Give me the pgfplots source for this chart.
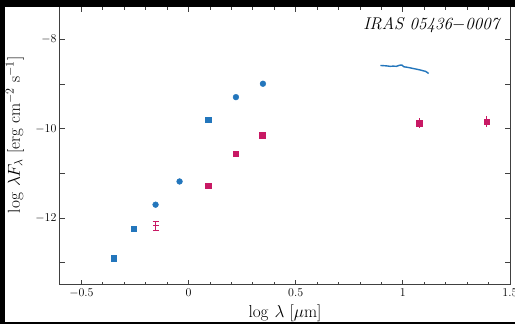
\documentclass[border=0pt]{standalone}
\usepackage{pgfplots}
\pgfplotsset{compat=1.18}
\definecolor{cblue}{RGB}{35,118,188}
\definecolor{cmag}{RGB}{200,25,100}
\begin{document}
\begin{tikzpicture}[x=1pt,y=1pt]
\path[use as bounding box] (0,0) rectangle (515,324);
\fill[white] (0,0) rectangle (515,324);
\begin{axis}[
  at={(60pt,39pt)}, anchor=south west, scale only axis,
  width=450pt, height=278pt,
  xmin=-0.6, xmax=1.5, ymin=-13.5, ymax=-7.27,
  xtick={-0.5,0,0.5,1,1.5},
  xticklabels={$-0.5$,$0$,$0.5$,$1$,$1.5$},
  minor x tick num=4,
  ytick={-13,-12,-11,-10,-9,-8},
  yticklabels={{},{$-12$},{},{$-10$},{},{$-8$}},
  tick align=inside,
  major tick length=5pt, minor tick length=3pt,
  ticklabel style={font=\fontsize{12}{14}\selectfont},
  axis line style={line width=1pt, black!75},
  every tick/.style={black!75, line width=0.8pt},
  xlabel={$\log\,\lambda$ [$\mu$m]},
  ylabel={$\log\,\lambda F_\lambda$ [erg cm$^{-2}$ s$^{-1}$]},
  every axis x label/.style={at={(axis description cs:0.5,0)}, anchor=north, yshift=-16pt, font=\fontsize{17}{20}\selectfont},
  every axis y label/.style={at={(axis description cs:-0.1,0.54)}, rotate=90, anchor=center, font=\fontsize{17}{20}\selectfont},
]
% blue squares
\addplot[only marks, mark=square*, mark size=2.7pt, color=cblue] coordinates {
  (-0.35,-12.90) (-0.257,-12.24) (0.092,-9.80)
};
% blue circles
\addplot[only marks, mark=*, mark size=2.9pt, color=cblue] coordinates {
  (-0.154,-11.70) (-0.042,-11.18) (0.221,-9.29) (0.347,-8.99)
};
% magenta squares
\addplot[only marks, mark=square*, mark size=2.7pt, color=cmag] coordinates {
  (0.092,-11.27) (0.221,-10.56) (0.344,-10.14)
};
% magenta with errors
\addplot[only marks, mark=square*, mark size=2.7pt, color=cmag,
  error bars/.cd, y dir=both, y explicit, error mark=none,
  error bar style={line width=0.8pt}] coordinates {
  (1.077,-9.87) +- (0,0.12)
  (1.39,-9.84) +- (0,0.12)
};
% magenta limit-like point
\addplot[only marks, mark=-, mark size=3pt, color=cmag,
  error bars/.cd, y dir=both, y explicit,
  error mark options={rotate=90, mark size=3pt}] coordinates {
  (-0.154,-12.17) +- (0,0.11)
};
% spectrum
\addplot[color=cblue, line width=1.4pt] coordinates {
  (0.895,-8.58) (0.91,-8.585) (0.925,-8.59) (0.94,-8.60) (0.955,-8.595)
  (0.97,-8.60) (0.985,-8.575) (0.995,-8.57) (1.005,-8.61) (1.02,-8.62)
  (1.035,-8.635) (1.05,-8.65) (1.065,-8.665) (1.08,-8.68) (1.095,-8.70)
  (1.105,-8.71) (1.115,-8.74) (1.12,-8.76)
};
\end{axis}
\node[anchor=east, font=\fontsize{17}{20}\selectfont\itshape] at (503,299) {IRAS 05436$-$0007};
\fill[black] (0,317) rectangle (515,324);
\fill[black] (0,0) rectangle (5,324);
\fill[black] (0,0) rectangle (515,2);
\end{tikzpicture}
\end{document}
